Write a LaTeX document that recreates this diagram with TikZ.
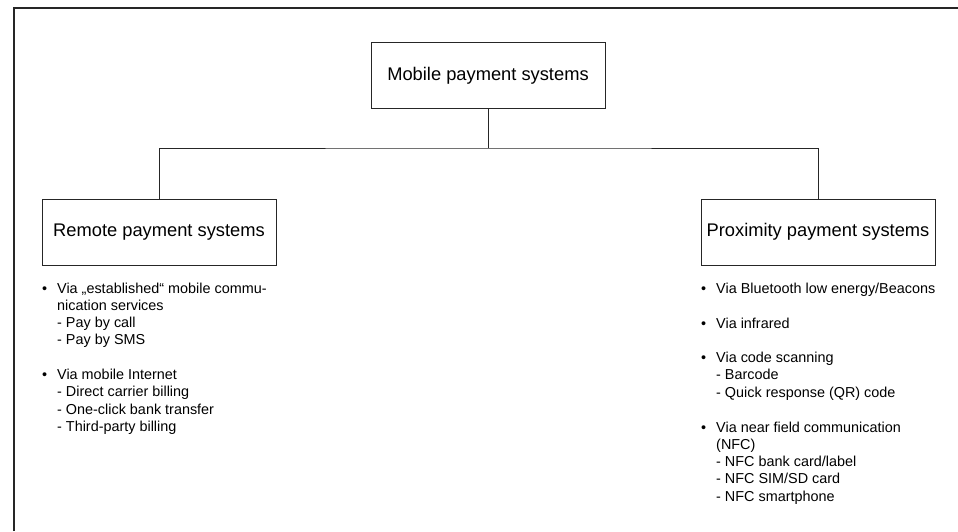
\documentclass[tikz,border=0pt]{standalone}
\usepackage{fontspec}
\setmainfont{Liberation Sans}
\usetikzlibrary{positioning}

\newcommand{\itemtext}[1]{\parbox[t]{230pt}{\raggedright\leavevmode\llap{\textbullet\hspace{10pt}}#1}}

\begin{document}
\begin{tikzpicture}[x=1pt, y=-1pt,
    sysbox/.style={draw=black!85, line width=0.9pt, minimum width=234pt, minimum height=66pt, inner sep=0pt, font=\fontsize{18.3}{22}\selectfont},
    listitem/.style={anchor=base west, inner sep=0pt, font=\fontsize{14.4}{17.3}\selectfont},
    link/.style={draw=black!85, line width=0.9pt}]
        \useasboundingbox (0,0) rectangle (958,531);
        \draw[black!85, line width=1.3pt] (14,531) -- (14,8) -- (958,8); % outer frame, cut by the page

        % boxes
        \node[sysbox] (mobile) at (488,75.5) {Mobile payment systems};
        \node[sysbox] (remote) at (159,232) {Remote payment systems};
        \node[sysbox] (proximity) at (818,232) {Proximity payment systems};

        % tree connectors
        \coordinate (split) at (488,148);
        \draw[link] (mobile.south) -- (split);
        \draw[link] (remote.north) |- (split) -| (proximity.north);

        % remote payment list
        \node[listitem] (remotea) at (57,293) {\itemtext{Via „established“ mobile commu-\\nication services\\- Pay by call\\- Pay by SMS}};
        \node[listitem] (remoteb) at (57,379.5) {\itemtext{Via mobile Internet\\- Direct carrier billing\\- One-click bank transfer\\- Third-party billing}};

        % proximity payment list
        \node[listitem] (proxa) at (716,293) {\itemtext{Via Bluetooth low energy/Beacons}};
        \node[listitem] (proxb) at (716,328) {\itemtext{Via infrared}};
        \node[listitem] (proxc) at (716,362.5) {\itemtext{Via code scanning\\- Barcode\\- Quick response (QR) code}};
        \node[listitem] (proxd) at (716,432) {\itemtext{Via near field communication\\(NFC)\\- NFC bank card/label\\- NFC SIM/SD card\\- NFC smartphone}};
    \end{tikzpicture}
\end{document}
